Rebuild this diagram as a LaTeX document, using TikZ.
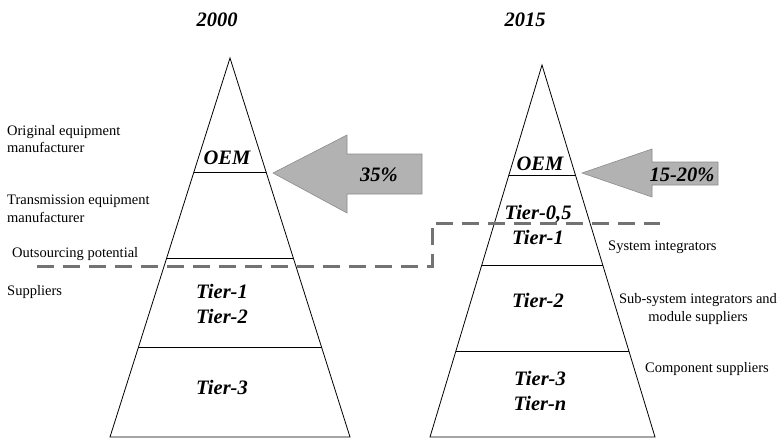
\documentclass[tikz,border=0pt]{standalone}
\usepackage{fontspec}
\setmainfont{Liberation Serif}
\usepackage{tikz}
\usetikzlibrary{positioning,calc}
\definecolor{arrowfill}{RGB}{178,178,178}
\definecolor{arrowline}{RGB}{140,140,140}
\definecolor{dashgray}{RGB}{115,115,115}

\begin{document}
\begin{tikzpicture}[
    x=1pt, y=-1pt,
    label/.style={inner sep=0pt, font=\fontsize{14.5}{17.5}\selectfont},
    tier/.style={inner sep=0pt, align=center, font=\fontsize{20.5}{24.5}\selectfont\bfseries\itshape},
    pyramid/.style={draw, line width=0.8pt},
    share/.style={fill=arrowfill, draw=arrowline, line width=0.6pt},
    potential/.style={draw=dashgray, line width=3pt, dash pattern=on 17pt off 9pt}
]
    \useasboundingbox (0,0) rectangle (781,439);

    % Pyramid 2000
    \coordinate (a1) at (230,58);
    \coordinate (l1) at (110,437);
    \coordinate (r1) at (350,437);
    \draw[pyramid] (a1) -- (l1) -- (r1) -- cycle;
    \foreach \t in {0.303,0.530,0.763}
        \draw[pyramid] ($(a1)!\t!(l1)$) -- ($(a1)!\t!(r1)$);

    % Pyramid 2015
    \coordinate (a2) at (542,65);
    \coordinate (l2) at (430,437);
    \coordinate (r2) at (655,437);
    \draw[pyramid] (a2) -- (l2) -- (r2) -- cycle;
    \foreach \t in {0.296,0.540,0.769}
        \draw[pyramid] ($(a2)!\t!(l2)$) -- ($(a2)!\t!(r2)$);

    % Titles
    \node[tier] (y2000) at (217,20) {2000};
    \node[tier] (y2015) at (525,20) {2015};

    % Tiers 2000
    \node[tier] (oem1) at (227,158) {OEM};
    \node[tier] (tier12) at (222,304) {Tier-1\\Tier-2};
    \node[tier] (tier3) at (222,387) {Tier-3};

    % Tiers 2015
    \node[tier] (oem2) at (540,164) {OEM};
    \node[tier] (tier051) at (538,225) {Tier-0,5\\Tier-1};
    \node[tier] (tier2) at (538,300) {Tier-2};
    \node[tier] (tier3n) at (540,391) {Tier-3\\Tier-n};

    % Shares
    \filldraw[share] (273,173) -- (347,135) -- (347,154) -- (422,154) -- (422,194) -- (347,194) -- (347,213) -- cycle;
    \filldraw[share] (582,173) -- (652,149) -- (652,162) -- (718,162) -- (718,185) -- (652,185) -- (652,197) -- cycle;
    \node[tier] (share1) at (379,175) {35\%};
    \node[tier] (share2) at (682,175) {15-20\%};

    % Outsourcing potential
    \coordinate (d0) at (37,266);
    \coordinate (d1) at (432,266);
    \coordinate (d2) at (432,223);
    \coordinate (d3) at (660,223);
    \draw[potential] (d0) -- (d1) -- (d2) -- (d3);

    % Labels left
    \node[label, anchor=west, align=left] (oemtxt) at (7,139) {Original equipment\\manufacturer};
    \node[label, anchor=west, align=left] (tmtxt) at (7,209) {Transmission equipment\\manufacturer};
    \node[label, anchor=west] (outtxt) at (12,254) {Outsourcing potential};
    \node[label, anchor=west] (suptxt) at (7,292) {Suppliers};

    % Labels right
    \node[label, anchor=west] (systxt) at (608,247) {System integrators};
    \node[label, align=center] (subtxt) at (698,309) {Sub-system integrators and\\module suppliers};
    \node[label] (comptxt) at (707,369) {Component suppliers};
\end{tikzpicture}
\end{document}
